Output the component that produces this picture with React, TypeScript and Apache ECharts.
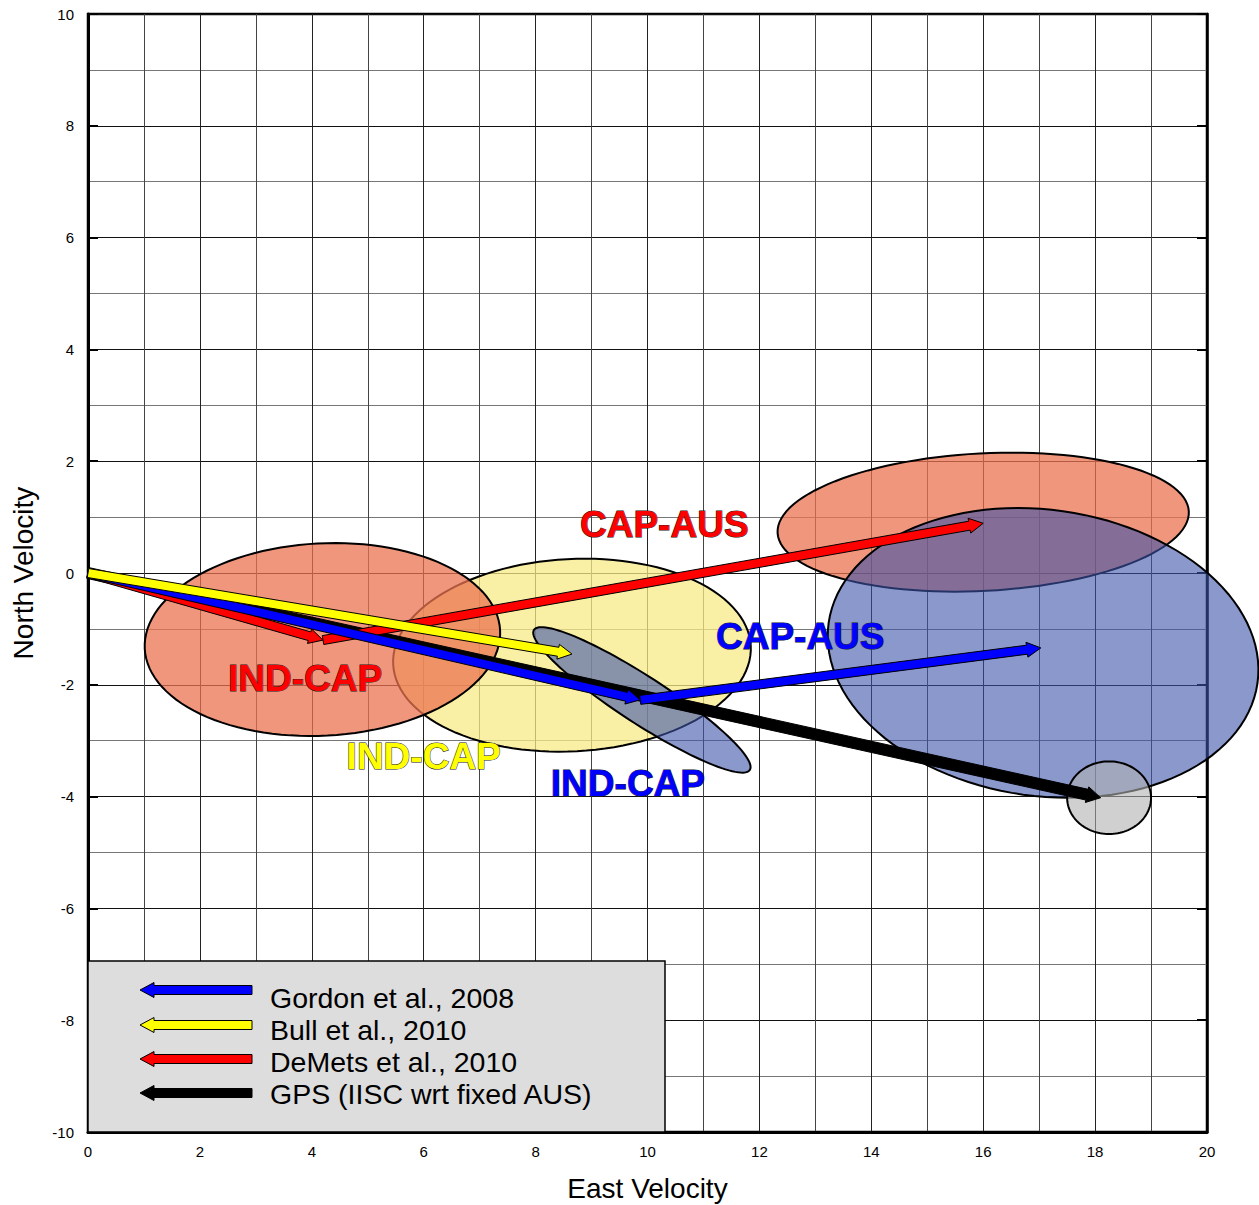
import React, { useEffect, useRef } from "react";
import * as echarts from "echarts";

// ---------- data ----------
const xTickValues = [0, 2, 4, 6, 8, 10, 12, 14, 16, 18, 20];
const yTickValues = [-10, -8, -6, -4, -2, 0, 2, 4, 6, 8, 10];

// arrows: [x0, y0, x1, y1] (East, North velocity)
const gordonArrows = [
  [0, 0, 9.87, -2.27],
  [9.87, -2.27, 17.03, -1.34],
];
const bullArrows = [[0, 0, 8.65, -1.45]];
const demetsArrows = [
  [0, 0, 4.2, -1.2],
  [4.2, -1.2, 16.0, 0.89],
];
const gpsArrows = [[0, 0, 18.1, -4.02]];

// error ellipses
const ellipseNames = ["Bull IND-CAP", "DeMets IND-CAP", "Gordon IND-CAP", "DeMets CAP-AUS", "Gordon CAP-AUS", "GPS"];
const ellipseCenters = [
  [8.65, -1.47],
  [4.19, -1.19],
  [9.9, -2.27],
  [16.0, 0.91],
  [17.07, -1.43],
  [18.25, -4.02],
];
const ellipseSemiAxes = [
  [3.2, 1.72],
  [3.18, 1.72],
  [2.3, 0.42],
  [3.68, 1.23],
  [3.87, 2.56],
  [0.75, 0.65],
];
const ellipseAngles = [3, 3, -33, 3, -8, 0];

// labels
const labelTexts = ["CAP-AUS", "IND-CAP", "IND-CAP", "IND-CAP", "CAP-AUS"];
const labelPositions = [
  [10.3, 0.86],
  [3.88, -1.88],
  [6.0, -3.29],
  [9.65, -3.76],
  [12.73, -1.14],
];

const legendLabels = ["Gordon et al., 2008", "Bull et al., 2010", "DeMets et al., 2010", "GPS (IISC wrt fixed AUS)"];

// ---------- styles ----------
const ellipseFills = ["#F8EB87", "#EB7350", "#3C53AA", "#EB7350", "#3C53AA", "#B1B1B1"];
const ellipseOpacity = [0.75, 0.75, 0.6, 0.75, 0.6, 0.6];
const labelColors = ["#FF0000", "#FF0000", "#FFFF00", "#0000FF", "#0000FF"];
const legendColors = ["#0000FF", "#FFFF00", "#FF0000", "#000000"];
const FONT = '"Liberation Sans", Arial, Helvetica, sans-serif';

function arrowPoints(x0: number, y0: number, x1: number, y1: number, w: number, hw: number, hl: number) {
  const dx = x1 - x0;
  const dy = y1 - y0;
  const L = Math.hypot(dx, dy) || 1;
  const ux = dx / L;
  const uy = dy / L;
  const nx = -uy;
  const ny = ux;
  const bx = x1 - ux * hl;
  const by = y1 - uy * hl;
  return [
    [x0 + nx * w, y0 + ny * w],
    [bx + nx * w, by + ny * w],
    [bx + nx * hw, by + ny * hw],
    [x1, y1],
    [bx - nx * hw, by - ny * hw],
    [bx - nx * w, by - ny * w],
    [x0 - nx * w, y0 - ny * w],
  ];
}

function arrowSeries(name: string, data: number[][], color: string, w: number, hw: number, z: number) {
  return {
    type: "custom",
    name,
    z,
    data,
    encode: { x: [0, 2], y: [1, 3] },
    renderItem: (params: any, api: any) => {
      const p0 = api.coord([api.value(0), api.value(1)]);
      const p1 = api.coord([api.value(2), api.value(3)]);
      return {
        type: "polygon",
        shape: { points: arrowPoints(p0[0], p0[1], p1[0], p1[1], w, hw, 14) },
        style: { fill: color, stroke: "#000", lineWidth: 1 },
      };
    },
  };
}

export default function App() {
  const ref = useRef<HTMLDivElement>(null);

  useEffect(() => {
    if (!ref.current) return;
    const chart = echarts.init(ref.current, undefined, { renderer: "svg" });

    const ellipseData = ellipseCenters.map((c, i) => [c[0], c[1], ellipseSemiAxes[i][0], ellipseSemiAxes[i][1], ellipseAngles[i], i]);
    const labelData = labelPositions.map((p, i) => [p[0], p[1], i]);

    const legendGraphics: any[] = [
      {
        type: "rect",
        shape: { x: 88, y: 961, width: 577, height: 171 },
        style: { fill: "#DDDDDD", stroke: "#000", lineWidth: 1.5 },
        z: 100,
      },
    ];
    const arrowYs = [990, 1025, 1059, 1093];
    legendLabels.forEach((t, i) => {
      legendGraphics.push({
        type: "polygon",
        shape: { points: arrowPoints(252, arrowYs[i], 140, arrowYs[i], 4.5, 7.5, 14) },
        style: { fill: legendColors[i], stroke: "#000", lineWidth: 1 },
        z: 101,
      });
      legendGraphics.push({
        type: "text",
        x: 270,
        y: 998 + i * 32,
        style: {
          text: t,
          fill: "#000",
          fontSize: 28.5,
          fontFamily: FONT,
          align: "left",
          verticalAlign: "middle",
        },
        z: 101,
      });
    });

    const option: any = {
      animation: false,
      backgroundColor: "#fff",
      grid: {
        left: 88,
        right: 52,
        top: 14,
        bottom: 73,
        outerBoundsMode: "none",
        containLabel: false,
        show: true,
        borderColor: "#000",
        borderWidth: 2.5,
        backgroundColor: "transparent",
      },
      xAxis: {
        type: "value",
        min: 0,
        max: 20,
        interval: 2,
        name: "East Velocity",
        nameLocation: "middle",
        nameGap: 42,
        nameTextStyle: { fontSize: 28, color: "#000", fontFamily: FONT },
        axisLine: { show: true, onZero: false, lineStyle: { color: "#000", width: 3 } },
        axisTick: { show: false },
        axisLabel: {
          color: "#000",
          fontSize: 15,
          fontFamily: FONT,
          margin: 12,
          customValues: xTickValues,
        },
        splitLine: { show: true, lineStyle: { color: "#222", width: 1 } },
        minorTick: { show: false, splitNumber: 2 },
        minorSplitLine: { show: true, lineStyle: { color: "#444", width: 1 } },
      },
      yAxis: [
        {
          type: "value",
          min: -10,
          max: 10,
          interval: 2,
          name: "North Velocity",
          nameLocation: "middle",
          nameGap: 51,
          nameTextStyle: { fontSize: 28, color: "#000", fontFamily: FONT },
          axisLine: { show: true, onZero: false, lineStyle: { color: "#000", width: 3 } },
          axisTick: { show: true, inside: true, length: 10, lineStyle: { color: "#000", width: 2 } },
          axisLabel: {
            color: "#000",
            fontSize: 15,
            fontFamily: FONT,
            margin: 14,
            customValues: yTickValues,
          },
          splitLine: { show: true, lineStyle: { color: "#111", width: 1 } },
          minorTick: { show: false, splitNumber: 2 },
          minorSplitLine: { show: true, lineStyle: { color: "#777", width: 1 } },
        },
        {
          type: "value",
          min: -10,
          max: 10,
          interval: 2,
          position: "right",
          axisLine: { show: true, onZero: false, lineStyle: { color: "#000", width: 2.5 } },
          axisTick: { show: true, inside: true, length: 10, lineStyle: { color: "#000", width: 2 } },
          axisLabel: { show: false },
          splitLine: { show: false },
        },
      ],
      series: [
        {
          type: "custom",
          name: "ellipses",
          z: 2,
          data: ellipseData,
          encode: { x: 0, y: 1 },
          renderItem: (params: any, api: any) => {
            const cx = api.value(0);
            const cy = api.value(1);
            const a = api.value(2);
            const b = api.value(3);
            const th = (api.value(4) * Math.PI) / 180;
            const idx = api.value(5);
            const pts: number[][] = [];
            for (let k = 0; k < 120; k++) {
              const t = (k / 120) * Math.PI * 2;
              const x = cx + a * Math.cos(t) * Math.cos(th) - b * Math.sin(t) * Math.sin(th);
              const y = cy + a * Math.cos(t) * Math.sin(th) + b * Math.sin(t) * Math.cos(th);
              pts.push(api.coord([x, y]));
            }
            return {
              type: "polygon",
              name: ellipseNames[idx],
              shape: { points: pts },
              style: {
                fill: ellipseFills[idx],
                opacity: 1,
                fillOpacity: ellipseOpacity[idx],
                stroke: "#000",
                lineWidth: 2,
              },
            };
          },
        },
        arrowSeries("GPS (IISC wrt fixed AUS)", gpsArrows, "#000000", 5.5, 8, 3),
        arrowSeries("DeMets et al., 2010", demetsArrows, "#FF0000", 4.5, 7.5, 4),
        arrowSeries("Gordon et al., 2008", gordonArrows, "#0000FF", 4.5, 7.5, 5),
        arrowSeries("Bull et al., 2010", bullArrows, "#FFFF00", 4.5, 7.5, 6),
        {
          type: "custom",
          name: "labels",
          z: 7,
          data: labelData,
          encode: { x: 0, y: 1 },
          renderItem: (params: any, api: any) => {
            const p = api.coord([api.value(0), api.value(1)]);
            const idx = api.value(2);
            return {
              type: "text",
              x: p[0],
              y: p[1],
              style: {
                text: labelTexts[idx],
                fill: labelColors[idx],
                stroke: "#222",
                lineWidth: 1,
                fontSize: 37,
                fontWeight: "bold",
                fontFamily: FONT,
                align: "center",
                verticalAlign: "middle",
              },
            };
          },
        },
      ],
      graphic: legendGraphics,
    };

    chart.setOption(option);
    return () => chart.dispose();
  }, []);

  return (
    <div
      ref={ref}
      style={{ position: "fixed", left: 0, top: 0, width: 1259, height: 1205, background: "#fff" }}
    />
  );
}
